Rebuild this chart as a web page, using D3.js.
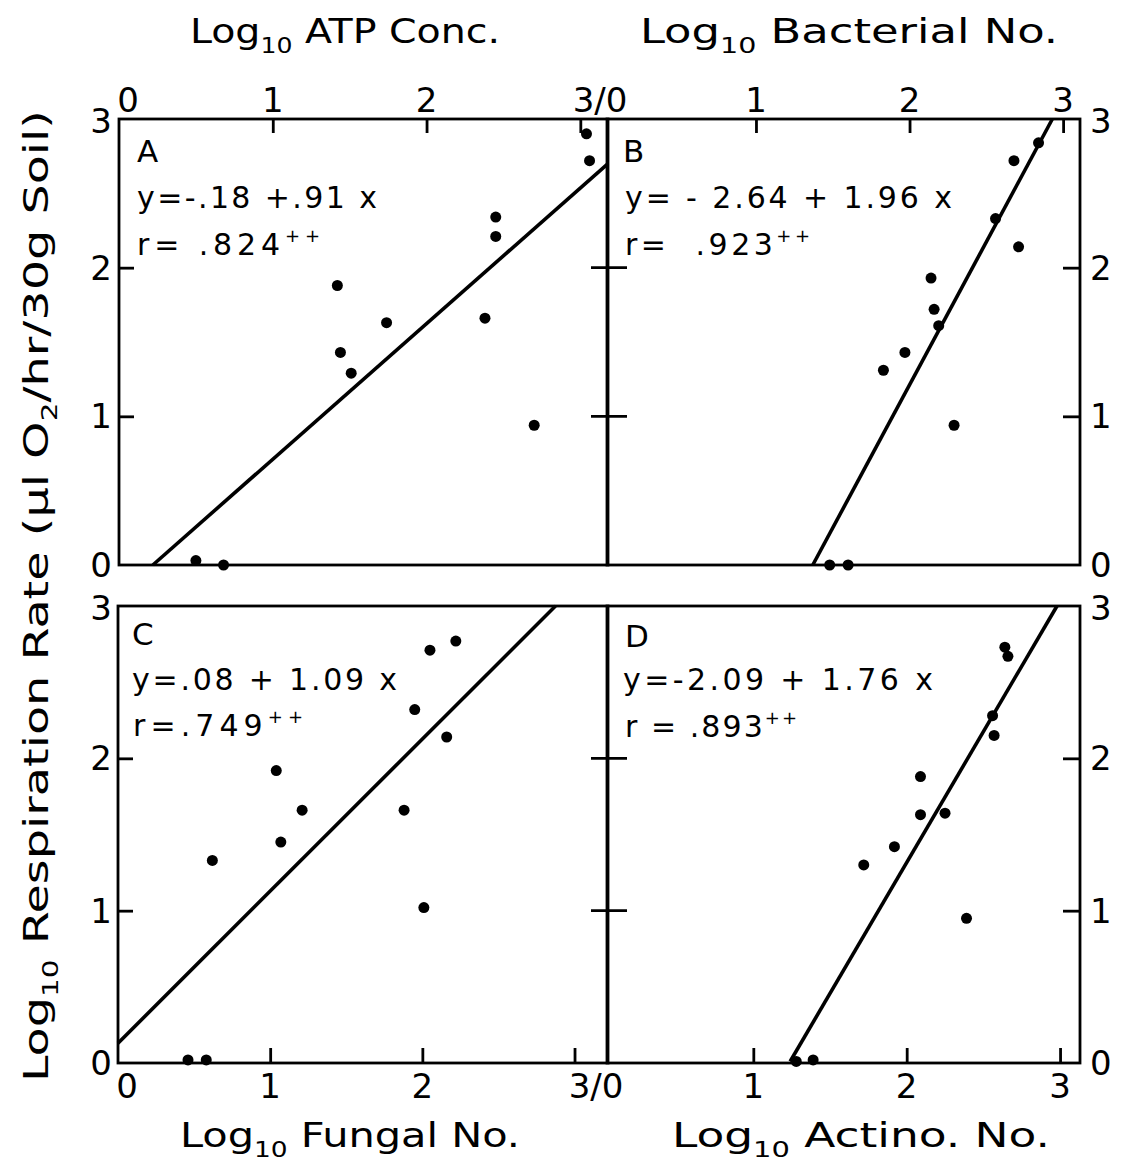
<!DOCTYPE html>
<html>
<head>
<meta charset="utf-8">
<script src="https://cdn.jsdelivr.net/npm/d3@7"></script>
<style>
  body{margin:0;background:#fff;}
  text{font-family:"DejaVu Sans",sans-serif;fill:#000;white-space:pre;}
</style>
</head>
<body>
<svg id="fig" width="1130" height="1164"></svg>
<script>
/* ----- data --------------------------------------------------- */
// A: log10 ATP conc. vs log10 respiration
const atpX   = [3.04, 3.06, 2.45, 2.45, 1.42, 1.74, 2.38, 1.44, 1.51, 2.70, 0.50, 0.68];
const atpY   = [2.90, 2.72, 2.34, 2.21, 1.88, 1.63, 1.66, 1.43, 1.29, 0.94, 0.03, 0.00];
// B: log10 bacterial no.
const bactX  = [2.84, 2.68, 2.56, 2.71, 2.14, 2.16, 2.19, 1.97, 1.83, 2.29, 1.48, 1.60];
const bactY  = [2.84, 2.72, 2.33, 2.14, 1.93, 1.72, 1.61, 1.43, 1.31, 0.94, 0.00, 0.00];
// C: log10 fungal no.
const fungX  = [2.22, 2.05, 1.95, 2.16, 1.04, 1.21, 1.88, 1.07, 0.62, 2.01, 0.46, 0.58];
const fungY  = [2.77, 2.71, 2.32, 2.14, 1.92, 1.66, 1.66, 1.45, 1.33, 1.02, 0.02, 0.02];
// D: log10 actino. no.
const actX   = [2.64, 2.66, 2.56, 2.57, 2.09, 2.09, 2.25, 1.92, 1.72, 2.39, 1.28, 1.39];
const actY   = [2.73, 2.67, 2.28, 2.15, 1.88, 1.63, 1.64, 1.42, 1.30, 0.95, 0.01, 0.02];

// drawn regression lines, end points as drawn
const fitA = [[0.22, 0.00], [3.18, 2.70]];
const fitB = [[1.37, 0.00], [2.93, 3.00]];
const fitC = [[0.00, 0.13], [2.875, 3.00]];
const fitD = [[1.24, 0.01], [2.98, 3.00]];

const panelLetters = ['A', 'B', 'C', 'D'];
const equations    = ['y=-.18 +.91 x', 'y= - 2.64 + 1.96 x', 'y=.08 + 1.09 x', 'y=-2.09 + 1.76 x'];
const rValues      = ['r= .824', 'r=  .923', 'r=.749', 'r = .893'];
const xTitles      = ['ATP Conc.', 'Bacterial No.', 'Fungal No.', 'Actino. No.'];
const yTitle       = ['Respiration Rate (µl O', '/hr/30g Soil)'];
const xTicks       = [1, 2, 3];
const yTicks       = [0, 1, 2, 3];

/* ----- layout ------------------------------------------------- */
const svg = d3.select('#fig');
const panels = [
  {xs:atpX,  ys:atpY,  fit:fitA, xr:[119,608], yr:[565,119],  xd:[0,3.18],     top:true,  left:true,
   lab:[137,162], eq:[137,208,240], r:[137,255,183]},
  {xs:bactX, ys:bactY, fit:fitB, xr:[607,1080], yr:[565,119], xd:[0.03,3.11],  top:true,  left:false,
   lab:[623,162], eq:[625,208,327], r:[625,255,185]},
  {xs:fungX, ys:fungY, fit:fitC, xr:[118,608], yr:[1063,606], xd:[0,3.22],     top:false, left:true,
   lab:[132,645], eq:[132,690,265], r:[133,736,170]},
  {xs:actX,  ys:actY,  fit:fitD, xr:[607,1080], yr:[1063,606], xd:[0.046,3.13], top:false, left:false,
   lab:[625,647], eq:[623,690,310], r:[625,737,172]}
];

const SW = 2.8;

panels.forEach((p, i) => {
  const x = d3.scaleLinear().domain(p.xd).range(p.xr),
        y = d3.scaleLinear().domain([0,3]).range(p.yr),
        g = svg.append('g');

  /* frame */
  g.append('rect')
    .attr('x', p.xr[0]).attr('y', p.yr[1])
    .attr('width', p.xr[1]-p.xr[0]).attr('height', p.yr[0]-p.yr[1])
    .attr('fill','none').attr('stroke','#000').attr('stroke-width',SW);

  /* x ticks (inward) */
  const xa = p.top
    ? d3.axisTop(x).tickValues(xTicks).tickSize(-14).tickFormat('')
    : d3.axisBottom(x).tickValues(xTicks).tickSize(-15).tickFormat('');
  const xg = g.append('g')
    .attr('transform',`translate(0,${p.top ? p.yr[1] : p.yr[0]})`)
    .call(xa);
  xg.select('.domain').remove();
  xg.selectAll('line').attr('stroke-width',SW);

  /* outer y ticks (inward) */
  const ya = p.left
    ? d3.axisLeft(y).tickValues([1,2]).tickSize(-15).tickFormat('')
    : d3.axisRight(y).tickValues([1,2]).tickSize(-17).tickFormat('');
  const yg = g.append('g')
    .attr('transform',`translate(${p.left ? p.xr[0] : p.xr[1]},0)`)
    .call(ya);
  yg.select('.domain').remove();
  yg.selectAll('line').attr('stroke-width',SW);

  /* cross ticks on the shared middle line */
  if (p.left) {
    g.selectAll('.cross').data([1,2]).join('line')
      .attr('x1', p.xr[1]-17).attr('x2', p.xr[1]+19)
      .attr('y1', d=>y(d)).attr('y2', d=>y(d))
      .attr('stroke','#000').attr('stroke-width',SW);
  }

  /* y tick labels */
  g.selectAll('.ylab').data(yTicks).join('text')
    .attr('x', p.left ? 112 : 1090)
    .attr('y', d => y(d) + (d===3 ? 14 : 12))
    .attr('text-anchor', p.left ? 'end' : 'start')
    .style('font-size','34px')
    .text(d=>d);

  /* x tick labels */
  const xl = p.top ? 112 : 1098;
  const xlabs = p.left ? [0,1,2] : [1,2,3];
  g.selectAll('.xlab').data(xlabs).join('text')
    .attr('x', d => x(d) + (d===0 ? 9 : 0))
    .attr('y', xl)
    .attr('text-anchor','middle')
    .style('font-size','34px')
    .text(d=>d);
  if (p.left) {
    g.append('text')
      .attr('x', p.top ? 600 : 596).attr('y', xl)
      .attr('text-anchor','middle')
      .style('font-size','34px')
      .text('3/0');
  }

  /* regression line */
  g.append('line')
    .attr('x1', x(p.fit[0][0])).attr('y1', y(p.fit[0][1]))
    .attr('x2', x(p.fit[1][0])).attr('y2', y(p.fit[1][1]))
    .attr('stroke','#000').attr('stroke-width',3.6);

  /* points */
  g.selectAll('circle').data(p.xs.map((v,k)=>[v,p.ys[k]])).join('circle')
    .attr('cx', d=>x(d[0])).attr('cy', d=>y(d[1]))
    .attr('r', 5.5).attr('fill','#000');

  /* panel letter + equation */
  g.append('text')
    .attr('x', p.lab[0]).attr('y', p.lab[1])
    .style('font-size','31px')
    .text(panelLetters[i]);

  g.append('text')
    .attr('x', p.eq[0]).attr('y', p.eq[1])
    .attr('textLength', p.eq[2]).attr('lengthAdjust','spacing')
    .style('font-size','30px')
    .text(equations[i]);

  const rt = g.append('text')
    .attr('x', p.r[0]).attr('y', p.r[1])
    .attr('textLength', p.r[2]).attr('lengthAdjust','spacing')
    .style('font-size','30px');
  rt.append('tspan').text(rValues[i]);
  rt.append('tspan').attr('dy',-13).style('font-size','18px').text('++');
});

/* ----- axis titles ------------------------------------------- */
const titlePos = [[190,43,310],[640,43,418],[180,1147,340],[672,1147,378]];
xTitles.forEach((t,i) => {
  const tt = svg.append('text')
    .attr('x', titlePos[i][0]).attr('y', titlePos[i][1])
    .attr('textLength', titlePos[i][2]).attr('lengthAdjust','spacingAndGlyphs')
    .style('font-family','"DejaVu Sans Condensed","Liberation Sans Narrow",sans-serif')
    .style('font-size','33px');
  tt.append('tspan').text('Log');
  tt.append('tspan').attr('dy',10).style('font-size','21px').text('10');
  tt.append('tspan').attr('dy',-10).text(' ' + t);
});

const yt = svg.append('text')
  .attr('transform','translate(48,1082) rotate(-90)')
  .attr('textLength', 972).attr('lengthAdjust','spacingAndGlyphs')
  .style('font-family','"DejaVu Sans Condensed","Liberation Sans Narrow",sans-serif')
  .style('font-size','34px');
yt.append('tspan').text('Log');
yt.append('tspan').attr('dy',10).style('font-size','21px').text('10');
yt.append('tspan').attr('dy',-10).text(' ' + yTitle[0]);
yt.append('tspan').attr('dy',9).style('font-size','21px').text('2');
yt.append('tspan').attr('dy',-9).text(yTitle[1]);
</script>
</body>
</html>
